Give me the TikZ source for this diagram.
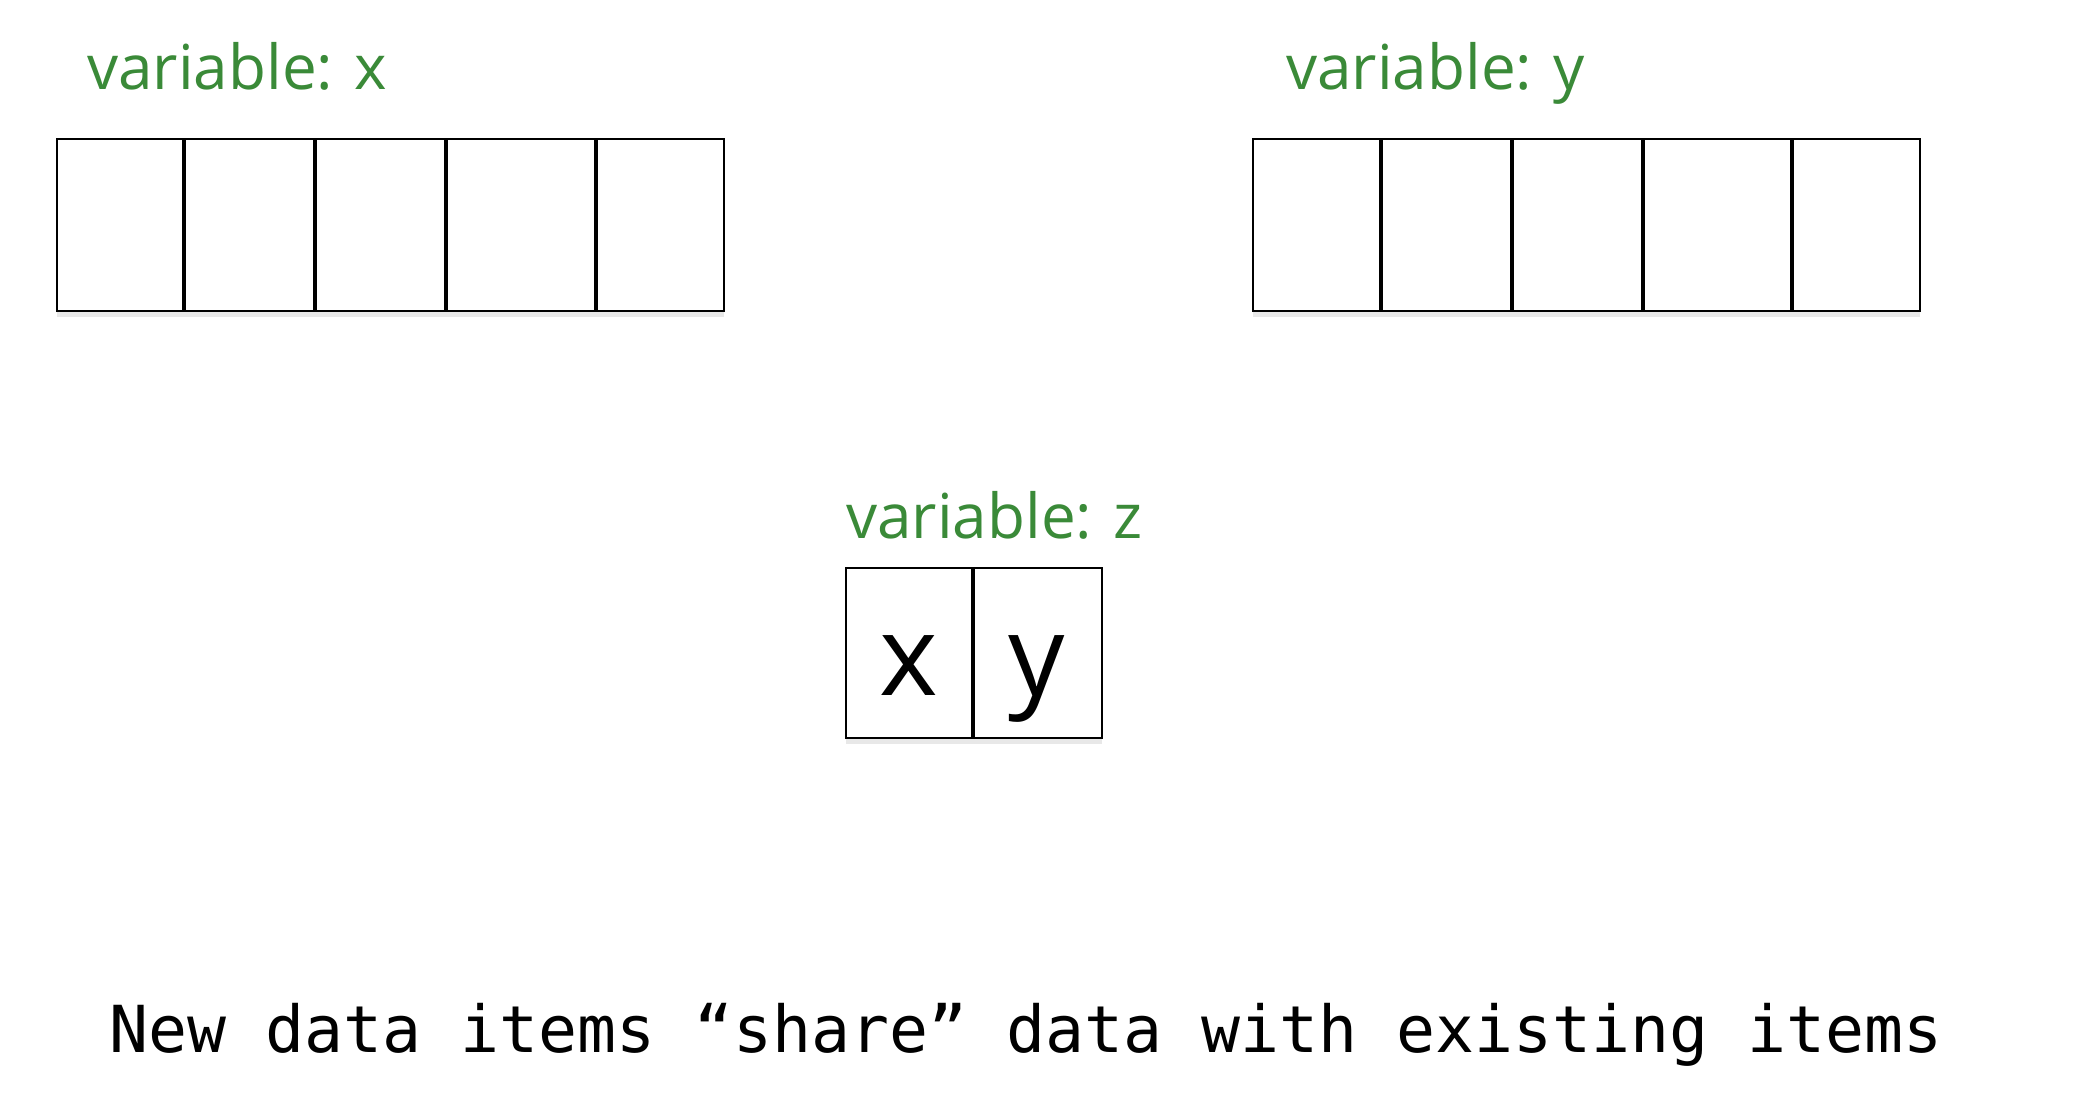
\documentclass[tikz,border=0pt]{standalone}
\usepackage{fontspec}
\setmainfont{Open Sans}
\newfontfamily\monofont{DejaVu Sans Mono}
\usetikzlibrary{positioning,shadows}

\definecolor{handgreen}{RGB}{58,138,56}

\tikzset{
	arraybox/.style={draw=black,line width=1.2pt,fill=white,anchor=north west,inner sep=0pt,
		drop shadow={shadow xshift=0pt,shadow yshift=-3pt,opacity=0.18}},
	divider/.style={black,line width=2.2pt},
	varlabel/.style={handgreen,anchor=base west,inner sep=0pt,font=\fontsize{31}{36}\selectfont},
	cellval/.style={inner sep=0pt,font=\fontsize{56}{62}\selectfont},
	caption/.style={anchor=base,inner sep=0pt,font=\monofont\fontsize{32.4}{38}\selectfont}
}

\begin{document}
\begin{tikzpicture}[x=0.5pt,y=-0.5pt]
	\useasboundingbox[fill=white] (0,0) rectangle (2096,1102);

	% variable x
	\node[varlabel] (labx) at (87,90) {variable: x};
	\node[arraybox,minimum width=333.5pt,minimum height=86pt] (arrx) at (56,138) {};
	\foreach \d in {184,315,446,596}
		\draw[divider] (\d,138) -- (\d,310);

	% variable y
	\node[varlabel] (laby) at (1286,90) {variable: y};
	\node[arraybox,minimum width=333.5pt,minimum height=86pt] (arry) at (1252,138) {};
	\foreach \d in {1381,1512,1643,1792}
		\draw[divider] (\d,138) -- (\d,310);

	% variable z
	\node[varlabel] (labz) at (846,538) {variable: z};
	\node[arraybox,minimum width=128pt,minimum height=85pt] (arrz) at (845,567) {};
	\draw[divider] (973,567) -- (973,737);
	\node[cellval,anchor=base] (zx) at (909,695) {x};
	\node[cellval,anchor=base] (zy) at (1037,695) {y};

	\node[caption] (note) at (1026,1052) {New data items “share” data with existing items};
\end{tikzpicture}
\end{document}
